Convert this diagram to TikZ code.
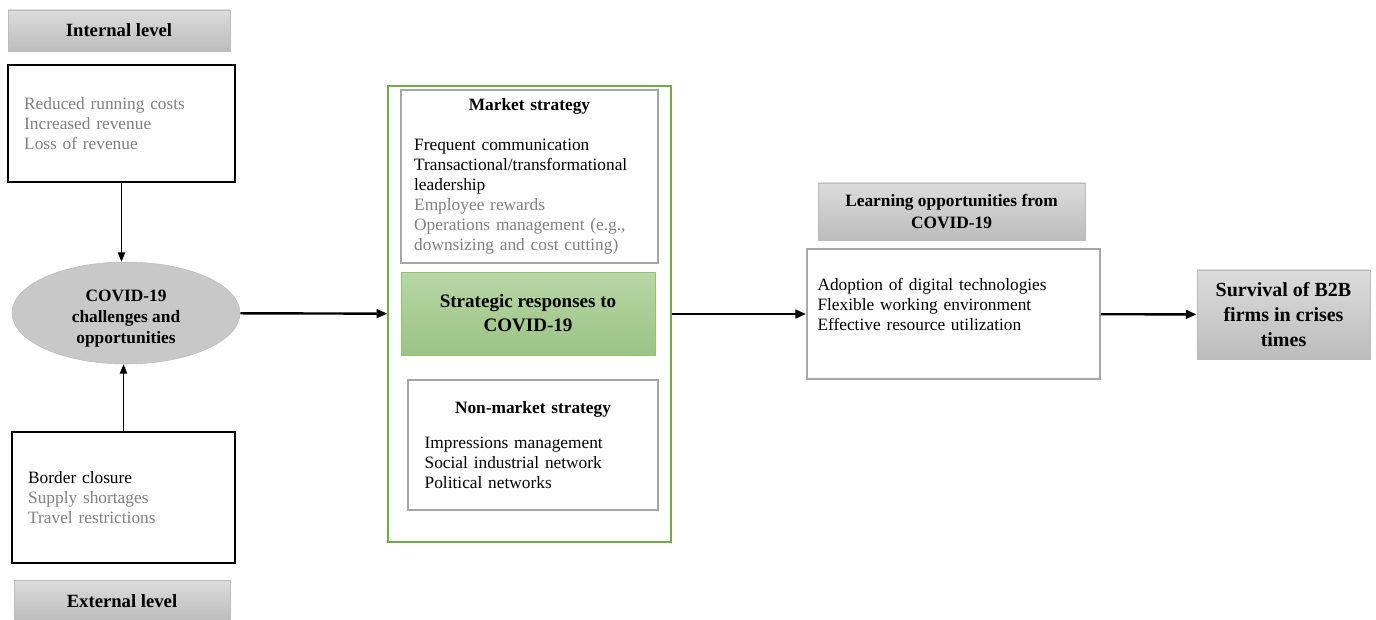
\documentclass[tikz,border=0pt]{standalone}
\usepackage{fontspec}
\setmainfont{Liberation Serif}
\usetikzlibrary{arrows.meta,shapes.geometric}
\definecolor{txtgray}{RGB}{128,128,128}
\definecolor{boxgray}{RGB}{166,166,166}
\definecolor{labtop}{RGB}{220,220,220}
\definecolor{labbot}{RGB}{188,188,188}
\definecolor{ellgray}{RGB}{200,200,200}
\definecolor{grn}{RGB}{112,173,71}
\definecolor{grntop}{RGB}{184,215,165}
\definecolor{grnbot}{RGB}{155,195,134}
\newcommand{\gr}[1]{\textcolor{txtgray}{#1}}

\begin{document}
\begin{tikzpicture}[x=0.75pt,y=-0.75pt,
    lab/.style={draw=labbot, top color=labtop, bottom color=labbot, align=center,
      font=\fontsize{13}{16}\selectfont\bfseries},
    blk/.style={draw, line width=1.5pt, align=left, inner xsep=12pt,
      font=\fontsize{13}{15}\selectfont},
    gbox/.style={draw=boxgray, line width=1.2pt, align=left,
      font=\fontsize{13}{15}\selectfont},
    arr/.style={-{Triangle[length=7pt,width=5.5pt]}, line width=0.75pt},
    bigarr/.style={-{Triangle[length=8pt,width=6.5pt]}, line width=1.8pt}]
  \useasboundingbox (0,0) rectangle (1376,619);
  % left column
  \node[lab, minimum width=166.5pt, minimum height=31pt, font=\fontsize{14}{16}\selectfont\bfseries] (intlab) at (119,30.5) {Internal level};
  \node[blk, text width=146pt, minimum height=88pt] (int) at (121.5,123.5)
    {\gr{Reduced running costs}\\ \gr{Increased revenue}\\ \gr{Loss of revenue}};
  \node[ellipse, draw=labbot, fill=ellgray, minimum width=171pt, minimum height=76.5pt, inner sep=0pt,
    align=center, font=\fontsize{13}{16}\selectfont\bfseries] (covid) at (126,313)
    {\rule{0pt}{17pt}COVID-19\\challenges and\\opportunities};
  \node[blk, text width=143pt, minimum height=98pt] (ext) at (123.5,497.5)
    {Border closure\\ \gr{Supply shortages}\\ \gr{Travel restrictions}};
  \node[lab, minimum width=162pt, minimum height=31.5pt, font=\fontsize{14}{16}\selectfont\bfseries] (extlab) at (122,601) {External level};
  % strategies
  \node[draw=grn, line width=1.2pt, minimum width=212pt, minimum height=342pt] (resp) at (529.5,314) {};
  \node[gbox, text width=173pt, inner xsep=10pt, minimum height=130pt] (mkt) at (529.5,176.5)
    {\makebox[\linewidth]{\bfseries Market strategy}\\[15pt]
     Frequent communication\\ Transactional/transformational\\ leadership\\
     \gr{Employee rewards}\\ \gr{Operations management (e.g.,}\\ \gr{downsizing and cost cutting)}};
  \node[draw=grn!75, top color=grntop, bottom color=grnbot, minimum width=190.5pt, minimum height=62pt,
    align=center, font=\fontsize{14.3}{18}\selectfont\bfseries] (strat) at (528,313.5)
    {Strategic responses to\\COVID-19};
  \node[gbox, text width=162.5pt, inner xsep=12.5pt, minimum height=97.5pt] (nonmkt) at (533,445)
    {\makebox[\linewidth]{\bfseries Non-market strategy}\\[11pt]
     Impressions management\\ Social industrial network\\ Political networks};
  % learning and survival
  \node[lab, minimum width=200pt, minimum height=43pt] (learnlab) at (951.5,211.5)
    {Learning opportunities from\\COVID-19};
  \node[gbox, text width=204pt, inner xsep=8pt, minimum height=97.5pt] (learn) at (953.5,314)
    {Adoption of digital technologies\\ Flexible working environment\\ Effective resource utilization\rule[-14pt]{0pt}{1pt}};
  \node[lab, minimum width=130pt, minimum height=67pt, font=\fontsize{15}{18.5}\selectfont\bfseries] (surv) at (1283.5,314.5)
    {Survival of B2B\\firms in crises\\times};
  % connectors
  \path[arr] (int.south) edge (int.south |- covid.north);
  \path[arr] (ext.north) edge (ext.north |- covid.south);
  \path[bigarr] (covid) edge (resp);
  \path[bigarr] (resp) edge (learn);
  \path[bigarr] (learn) edge (surv);
\end{tikzpicture}
\end{document}
